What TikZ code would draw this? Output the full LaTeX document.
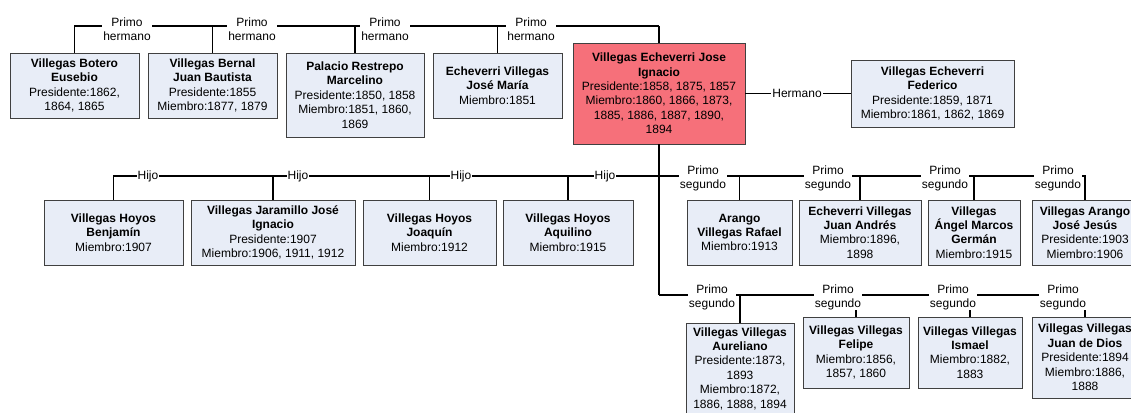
\documentclass[tikz,border=0pt]{standalone}
\usepackage{fontspec}
\setmainfont{Liberation Sans}
\usetikzlibrary{shadows}
\definecolor{boxfill}{RGB}{232,237,247}
\definecolor{keyfill}{RGB}{246,112,122}
\definecolor{boxline}{RGB}{64,64,64}
\begin{document}
\begin{tikzpicture}[x=1pt,y=-1pt,
  person/.style={draw=boxline, line width=0.9pt, fill=boxfill, align=center,
    inner sep=2pt, text=black, font=\fontsize{12}{14.4}\selectfont,
    drop shadow={shadow xshift=1pt, shadow yshift=-1pt, opacity=0.5, fill=black}},
  keyperson/.style={person, fill=keyfill},
  wire/.style={line width=1.1pt, black, line join=miter},
  trunk/.style={line width=1.9pt, black},
  rel/.style={fill=white, inner sep=1pt, align=center, text=black,
    font=\fontsize{12}{13.8}\selectfont}
]
\useasboundingbox (0,0) rectangle (1131,412);
\clip (0,0) rectangle (1131,412);

% central person and brother
\node[keyperson, minimum width=172, minimum height=101] (c) at (659,93.5)
  {\textbf{Villegas Echeverri Jose}\\\textbf{Ignacio}\\Presidente:1858, 1875, 1857\\Miembro:1860, 1866, 1873,\\1885, 1886, 1887, 1890,\\1894};
\node[person, minimum width=163, minimum height=67] (f) at (932.5,93.5)
  {\textbf{Villegas Echeverri}\\\textbf{Federico}\\Presidente:1859, 1871\\Miembro:1861, 1862, 1869};

% first cousins
\node[person, minimum width=129, minimum height=65] (b1) at (74.5,85.5)
  {\textbf{Villegas Botero}\\\textbf{Eusebio}\\Presidente:1862,\\1864, 1865};
\node[person, minimum width=129, minimum height=65] (b2) at (212.5,85.5)
  {\textbf{Villegas Bernal}\\\textbf{Juan Bautista}\\Presidente:1855\\Miembro:1877, 1879};
\node[person, minimum width=138, minimum height=84] (b3) at (355,95)
  {\textbf{Palacio Restrepo}\\\textbf{Marcelino}\\Presidente:1850, 1858\\Miembro:1851, 1860,\\1869};
\node[person, minimum width=129, minimum height=65] (b4) at (497.5,85.5)
  {\textbf{Echeverri Villegas}\\\textbf{José María}\\Miembro:1851};

% sons
\node[person, minimum width=139, minimum height=65] (h1) at (113.5,232.5)
  {\textbf{Villegas Hoyos}\\\textbf{Benjamín}\\Miembro:1907};
\node[person, minimum width=164, minimum height=65] (h2) at (273,232.5)
  {\textbf{Villegas Jaramillo José}\\\textbf{Ignacio}\\Presidente:1907\\Miembro:1906, 1911, 1912};
\node[person, minimum width=133, minimum height=65] (h3) at (429.5,232.5)
  {\textbf{Villegas Hoyos}\\\textbf{Joaquín}\\Miembro:1912};
\node[person, minimum width=130, minimum height=65] (h4) at (568,232.5)
  {\textbf{Villegas Hoyos}\\\textbf{Aquilino}\\Miembro:1915};

% second cousins, upper row
\node[person, minimum width=105, minimum height=65] (p1) at (739.5,232.5)
  {\textbf{Arango}\\\textbf{Villegas Rafael}\\Miembro:1913};
\node[person, minimum width=122, minimum height=65] (p2) at (860,232.5)
  {\textbf{Echeverri Villegas}\\\textbf{Juan Andrés}\\Miembro:1896,\\1898};
\node[person, minimum width=92, minimum height=65] (p3) at (974,232.5)
  {\textbf{Villegas}\\\textbf{Ángel Marcos}\\\textbf{Germán}\\Miembro:1915};
\node[person, minimum width=106, minimum height=65] (p4) at (1085,232.5)
  {\textbf{Villegas Arango}\\\textbf{José Jesús}\\Presidente:1903\\Miembro:1906};

% second cousins, lower row
\node[person, minimum width=108, minimum height=91] (q1) at (740,368.5)
  {\textbf{Villegas Villegas}\\\textbf{Aureliano}\\Presidente:1873,\\1893\\Miembro:1872,\\1886, 1888, 1894};
\node[person, minimum width=106, minimum height=71] (q2) at (856,352.5)
  {\textbf{Villegas Villegas}\\\textbf{Felipe}\\Miembro:1856,\\1857, 1860};
\node[person, minimum width=104, minimum height=71] (q3) at (970,352.5)
  {\textbf{Villegas Villegas}\\\textbf{Ismael}\\Miembro:1882,\\1883};
\node[person, minimum width=106, minimum height=81] (q4) at (1085,357.5)
  {\textbf{Villegas Villegas}\\\textbf{Juan de Dios}\\Presidente:1894\\Miembro:1886,\\1888};

% bus junctions
\coordinate (tb) at (659,26);
\coordinate (hb) at (659,176);
\coordinate (bb) at (659,295);

% upward bus to first cousins
\draw[trunk] (c.north) -- (tb);
\draw[wire] (tb) -- (tb -| b1.north) -- (b1.north);
\draw[wire] (tb -| b2.north) -- (b2.north);
\draw[wire] (tb -| b3.north) -- (b3.north);
\draw[wire] (tb -| b4.north) -- (b4.north);

% brother
\draw[wire] (c.east) -- (f.west);

% trunk downwards
\draw[trunk] (c.south) -- (bb);

% sons bus
\draw[wire] (hb) -- (hb -| h1.north) -- (h1.north);
\draw[wire] (hb -| h2.north) -- (h2.north);
\draw[wire] (hb -| h3.north) -- (h3.north);
\draw[wire] (hb -| h4.north) -- (h4.north);

% second cousins buses
\draw[wire] (hb) -- (hb -| p4.north) -- (p4.north);
\draw[wire] (hb -| p1.north) -- (p1.north);
\draw[wire] (hb -| p2.north) -- (p2.north);
\draw[wire] (hb -| p3.north) -- (p3.north);

\draw[wire, line width=1.5pt] (bb) -- (bb -| q4.north) -- (q4.north);
\draw[wire] (bb -| q1.north) -- (q1.north);
\draw[wire] (bb -| q2.north) -- (q2.north);
\draw[wire] (bb -| q3.north) -- (q3.north);

% relation labels
\node[rel] (lb1) at (127,29) {Primo\\hermano};
\node[rel] (lb2) at (252,29) {Primo\\hermano};
\node[rel] (lb3) at (385,29) {Primo\\hermano};
\node[rel] (lb4) at (531,29) {Primo\\hermano};
\node[rel] (lf) at (797,93.5) {Hermano};
\node[rel] (lh1) at (148,176) {Hijo};
\node[rel] (lh2) at (298,176) {Hijo};
\node[rel] (lh3) at (461,176) {Hijo};
\node[rel] (lh4) at (605,176) {Hijo};
\node[rel] (lp1) at (703,178) {Primo\\segundo};
\node[rel] (lp2) at (828,178) {Primo\\segundo};
\node[rel] (lp3) at (945,178) {Primo\\segundo};
\node[rel] (lp4) at (1058,178) {Primo\\segundo};
\node[rel] (lq1) at (712,297) {Primo\\segundo};
\node[rel] (lq2) at (838,297) {Primo\\segundo};
\node[rel] (lq3) at (953,297) {Primo\\segundo};
\node[rel] (lq4) at (1063,297) {Primo\\segundo};
\end{tikzpicture}
\end{document}
